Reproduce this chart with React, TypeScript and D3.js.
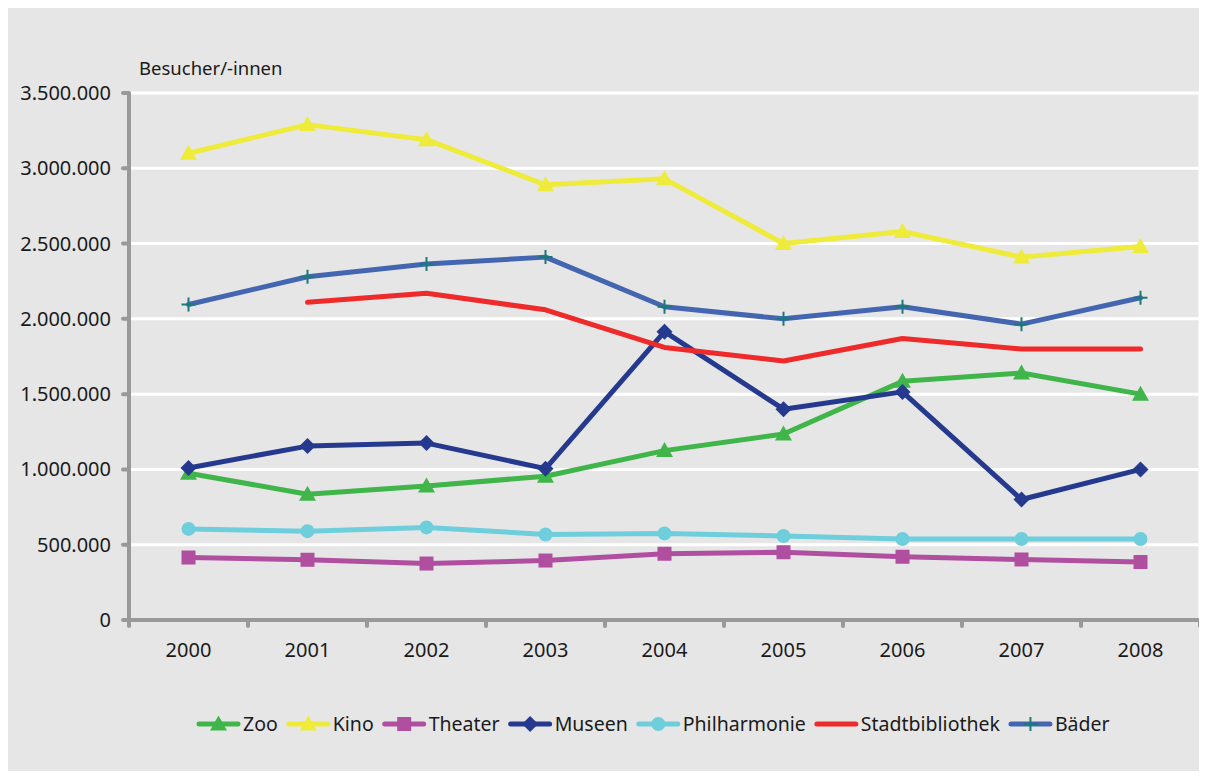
import { useRef, useEffect } from "react";
import * as d3 from "d3";

const years = ["2000", "2001", "2002", "2003", "2004", "2005", "2006", "2007", "2008"];

const zoo = [975000, 835000, 890000, 955000, 1125000, 1235000, 1585000, 1640000, 1500000];
const kino = [3100000, 3290000, 3190000, 2890000, 2930000, 2500000, 2580000, 2410000, 2480000];
const theater = [415000, 400000, 375000, 395000, 440000, 450000, 420000, 402000, 385000];
const museen = [1010000, 1155000, 1175000, 1005000, 1915000, 1400000, 1515000, 800000, 1000000];
const philharmonie = [605000, 590000, 615000, 568000, 575000, 558000, 538000, 538000, 538000];
const stadtbibliothek = [null, 2110000, 2170000, 2060000, 1810000, 1720000, 1870000, 1800000, 1800000];
const baeder = [2095000, 2280000, 2365000, 2410000, 2080000, 2000000, 2080000, 1965000, 2140000];

const yTicks = [0, 500000, 1000000, 1500000, 2000000, 2500000, 3000000, 3500000];

type Marker = "triangle" | "square" | "diamond" | "circle" | "none" | "plus";

const series: { name: string; values: (number | null)[]; color: string; marker: Marker }[] = [
  { name: "Zoo", values: zoo, color: "#3fb54a", marker: "triangle" },
  { name: "Kino", values: kino, color: "#eeeb3a", marker: "triangle" },
  { name: "Theater", values: theater, color: "#b04fa0", marker: "square" },
  { name: "Museen", values: museen, color: "#253a8e", marker: "diamond" },
  { name: "Philharmonie", values: philharmonie, color: "#6ecedb", marker: "circle" },
  { name: "Stadtbibliothek", values: stadtbibliothek, color: "#ee2a2a", marker: "none" },
  { name: "Bäder", values: baeder, color: "#4466b0", marker: "plus" },
];

const W = 1207;
const H = 779;
const FONT = "'Noto Sans', sans-serif";
const BG = "#e6e6e6";
const AXIS = "#999999";
const PLUS_COLOR = "#1a7a7a";
const TEXT = "#1a1a1a";

const left = 129;
const right = 1200;
const top = 93;
const bottom = 620;

function drawMarker(
  g: d3.Selection<SVGGElement, unknown, null, undefined>,
  marker: Marker,
  color: string,
  x: number,
  y: number,
) {
  if (marker === "triangle") {
    g.append("path")
      .attr("d", `M${x},${y - 8.5}L${x + 8.5},${y + 6.5}L${x - 8.5},${y + 6.5}Z`)
      .attr("fill", color);
  } else if (marker === "square") {
    g.append("rect").attr("x", x - 7).attr("y", y - 7).attr("width", 14).attr("height", 14).attr("fill", color);
  } else if (marker === "diamond") {
    g.append("path")
      .attr("d", `M${x},${y - 8}L${x + 8},${y}L${x},${y + 8}L${x - 8},${y}Z`)
      .attr("fill", color);
  } else if (marker === "circle") {
    g.append("circle").attr("cx", x).attr("cy", y).attr("r", 7).attr("fill", color);
  } else if (marker === "plus") {
    g.append("path")
      .attr("d", `M${x - 7},${y}H${x + 7}M${x},${y - 7}V${y + 7}`)
      .attr("stroke", PLUS_COLOR)
      .attr("stroke-width", 2);
  }
}

export default function App() {
  const svgRef = useRef<SVGSVGElement>(null);

  useEffect(() => {
    if (!svgRef.current) return;
    const svg = d3.select(svgRef.current);
    svg.selectAll("*").remove();

    svg.append("rect").attr("width", W).attr("height", H).attr("fill", "#fff");
    svg.append("rect").attr("x", 5).attr("y", 8).attr("width", W - 5).attr("height", H - 8).attr("fill", BG);

    const x = d3.scaleBand<string>().domain(years).range([left, right]);
    const y = d3.scaleLinear().domain([0, 3500000]).range([bottom, top]);
    const fmt = (v: number) => d3.format(",")(v).replace(/,/g, ".");
    const cx = (yr: string) => x(yr)! + x.bandwidth() / 2;

    // gridlines + right border
    svg.append("g")
      .selectAll("line")
      .data(yTicks.filter((t) => t > 0))
      .join("line")
      .attr("x1", left)
      .attr("x2", right)
      .attr("y1", (d) => y(d))
      .attr("y2", (d) => y(d))
      .attr("stroke", "#fff")
      .attr("stroke-width", 3);
    svg.append("line")
      .attr("x1", right).attr("x2", right)
      .attr("y1", top).attr("y2", bottom)
      .attr("stroke", "#fff").attr("stroke-width", 3);

    // y axis
    const ya = svg.append("g");
    ya.append("line")
      .attr("x1", left).attr("x2", left)
      .attr("y1", top).attr("y2", bottom)
      .attr("stroke", AXIS).attr("stroke-width", 4);
    ya.selectAll("line.tick")
      .data(yTicks)
      .join("line")
      .attr("class", "tick")
      .attr("x1", left - 6).attr("x2", left)
      .attr("y1", (d) => y(d)).attr("y2", (d) => y(d))
      .attr("stroke", AXIS).attr("stroke-width", 4).attr("stroke-linecap", "round");
    ya.selectAll("text")
      .data(yTicks)
      .join("text")
      .attr("x", left - 18)
      .attr("y", (d) => y(d))
      .attr("dy", "0.35em")
      .attr("text-anchor", "end")
      .attr("font-family", FONT)
      .attr("font-size", 20)
      .attr("fill", TEXT)
      .text((d) => fmt(d));

    svg.append("text")
      .attr("x", 139).attr("y", 75)
      .attr("font-family", FONT).attr("font-size", 18.5).attr("fill", TEXT)
      .text("Besucher/-innen");

    // x axis
    const xa = svg.append("g");
    xa.append("line")
      .attr("x1", left).attr("x2", right)
      .attr("y1", bottom).attr("y2", bottom)
      .attr("stroke", AXIS).attr("stroke-width", 4);
    const bounds = years.map((yr) => x(yr)!).concat([right]);
    xa.selectAll("line.tick")
      .data(bounds)
      .join("line")
      .attr("class", "tick")
      .attr("x1", (d) => d).attr("x2", (d) => d)
      .attr("y1", bottom).attr("y2", bottom + 6)
      .attr("stroke", AXIS).attr("stroke-width", 4).attr("stroke-linecap", "round");
    xa.selectAll("text")
      .data(years)
      .join("text")
      .attr("x", (d) => cx(d))
      .attr("y", 657)
      .attr("text-anchor", "middle")
      .attr("font-family", FONT)
      .attr("font-size", 20)
      .attr("fill", TEXT)
      .text((d) => d);

    // series
    const line = d3
      .line<number | null>()
      .defined((d) => d !== null)
      .x((_, i) => cx(years[i]))
      .y((d) => y(d as number));

    series.forEach((s) => {
      const g = svg.append("g");
      g.append("path")
        .attr("d", line(s.values))
        .attr("fill", "none")
        .attr("stroke", s.color)
        .attr("stroke-width", 5)
        .attr("stroke-linejoin", "round")
        .attr("stroke-linecap", "round");
      s.values.forEach((v, i) => {
        if (v === null) return;
        drawMarker(g, s.marker, s.color, cx(years[i]), y(v));
      });
    });

    // legend
    const lg = svg.append("g");
    let lx = 197;
    const ly = 724;
    series.forEach((s) => {
      const g = lg.append("g");
      g.append("line")
        .attr("x1", lx + 2).attr("x2", lx + 41)
        .attr("y1", ly).attr("y2", ly)
        .attr("stroke", s.color).attr("stroke-width", 5).attr("stroke-linecap", "round");
      drawMarker(g, s.marker, s.color, lx + 21.5, ly);
      const t = g.append("text")
        .attr("x", lx + 46)
        .attr("y", ly)
        .attr("dy", "0.35em")
        .attr("font-family", FONT)
        .attr("font-size", 19.5)
        .attr("fill", TEXT)
        .text(s.name);
      const tw = (t.node() as SVGTextElement).getComputedTextLength();
      lx += 46 + tw + 9;
    });
  }, []);

  return (
    <div style={{ margin: -8, width: W, height: H }}>
      <svg ref={svgRef} width={W} height={H} style={{ display: "block" }} />
    </div>
  );
}
